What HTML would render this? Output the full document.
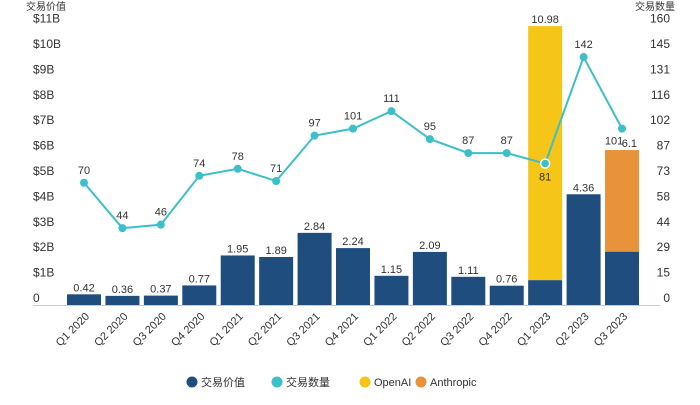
<!DOCTYPE html>
<html><head><meta charset="utf-8">
<style>
body{margin:0;background:#fff;width:700px;height:400px;overflow:hidden}
svg text{font-family:"Liberation Sans","Noto Sans CJK SC",sans-serif}
</style></head>
<body>
<svg id="c" width="700" height="400" xmlns="http://www.w3.org/2000/svg"></svg>
<script>
const categories=["Q1 2020","Q2 2020","Q3 2020","Q4 2020","Q1 2021","Q2 2021","Q3 2021","Q4 2021","Q1 2022","Q2 2022","Q3 2022","Q4 2022","Q1 2023","Q2 2023","Q3 2023"];
const baseValues=[0.42,0.36,0.37,0.77,1.95,1.89,2.84,2.24,1.15,2.09,1.11,0.76,0.98,4.36,2.1];
const openaiValues=[0,0,0,0,0,0,0,0,0,0,0,0,10.0,0,0];
const anthropicValues=[0,0,0,0,0,0,0,0,0,0,0,0,0,0,4.0];
const totalLabels=["0.42","0.36","0.37","0.77","1.95","1.89","2.84","2.24","1.15","2.09","1.11","0.76","10.98","4.36","6.1"];
const dealCounts=[70,44,46,74,78,71,97,101,111,95,87,87,81,142,101];
const leftTicks=["0","$1B","$2B","$3B","$4B","$5B","$6B","$7B","$8B","$9B","$10B","$11B"];
const rightTicks=["0","15","29","44","58","73","87","102","116","131","145","160"];

const svg=document.getElementById('c');
const NS="http://www.w3.org/2000/svg";
const y0=305, pxPerB=25.4, x0=67, pitch=38.43, bw=34;
const yV=v=>y0-v*pxPerB;
const yC=c=>y0-c*(11/160)*pxPerB;
const xB=i=>x0+i*pitch;
function el(t,a,txt){const e=document.createElementNS(NS,t);for(const k in a)e.setAttribute(k,a[k]);if(txt!==undefined)e.textContent=txt;svg.appendChild(e);return e;}

let e=el('text',{x:26,y:10,'font-size':10,fill:'#333'},'交易价值');

e=el('text',{x:675,y:10,'font-size':10,fill:'#333','text-anchor':'end'},'交易数量');


leftTicks.forEach((t,i)=>{
 const y=yV(i)-3;
 const a=el('text',{x:33,y:y,'font-size':12,fill:'#333'},t);
 
});
rightTicks.forEach((t,i)=>{
 const y=yV(i)-3;
 const a=el('text',{x:670,y:y,'font-size':12,fill:'#333','text-anchor':'end'},t);
 
});
e=el('line',{x1:33,y1:y0+0.5,x2:660,y2:y0+0.5,stroke:'#ccc','stroke-width':1});


categories.forEach((c,i)=>{
 const x=xB(i);
 let r=el('rect',{x:x,y:yV(baseValues[i]),width:bw,height:baseValues[i]*pxPerB,fill:'#1f4e7e'});
 
 let top=baseValues[i];
 if(openaiValues[i]>0){
  r=el('rect',{x:x,y:yV(top+openaiValues[i]),width:bw,height:openaiValues[i]*pxPerB,fill:'#f5c518'});
  
  top+=openaiValues[i];
 }
 if(anthropicValues[i]>0){
  r=el('rect',{x:x,y:yV(top+anthropicValues[i]),width:bw,height:anthropicValues[i]*pxPerB,fill:'#e8923a'});
  
  top+=anthropicValues[i];
 }
 const isLast=i===categories.length-1;
 const lb=el('text',{x:isLast?x+bw-2:x+bw/2,y:yV(top)-3,'font-size':11,fill:'#333','text-anchor':isLast?'end':'middle'},totalLabels[i]);
 
 const xl=el('text',{x:0,y:0,'font-size':11,fill:'#333','text-anchor':'end',transform:`translate(${x+bw/2+6},${y0+12}) rotate(-45)`},c);
 
});

const pts=dealCounts.map((c,i)=>[xB(i)+bw/2,yC(c)]);
e=el('polyline',{points:pts.map(p=>p.join(',')).join(' '),fill:'none',stroke:'#3bbfc9','stroke-width':2});

pts.forEach((p,i)=>{
 const special=i===12;
 const d=el('circle',{cx:p[0],cy:p[1],r:special?4.5:4,fill:'#3bbfc9',stroke:special?'#fff':'none','stroke-width':special?1.5:0});
 
 let ly=p[1]-9, lx=p[0];
 if(i===12) ly=p[1]+17;
 if(i===14){ly=p[1]+16;lx=p[0]-8;}
 const t=el('text',{x:lx,y:ly,'font-size':11,fill:'#333','text-anchor':'middle'},dealCounts[i]);
 
});

const legend=[["交易价值","#1f4e7e",192,"legend-deal-value"],["交易数量","#3bbfc9",277,"legend-deal-count"],["OpenAI","#f5c518",365,"legend-openai"],["Anthropic","#e8923a",421,"legend-anthropic"]];
legend.forEach(l=>{
 const c=el('circle',{cx:l[2],cy:382,r:5.5,fill:l[1]});
 
 const t=el('text',{x:l[2]+9,y:386,'font-size':11,fill:'#333'},l[0]);
 
});
</script>
</body></html>
